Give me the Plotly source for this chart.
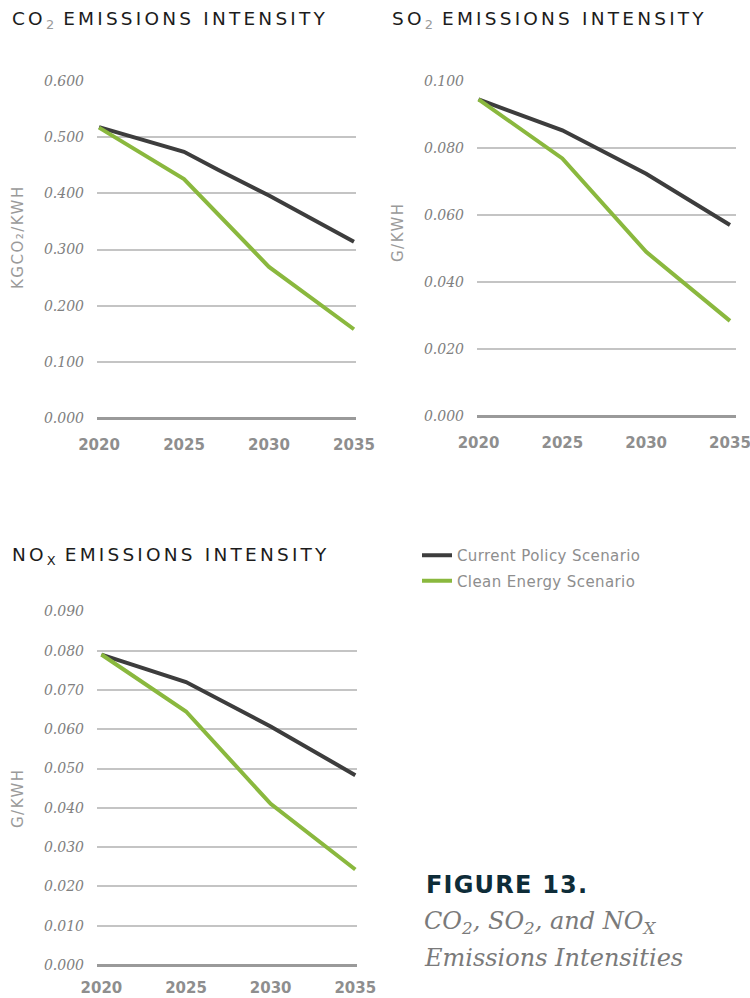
import plotly.graph_objects as go

# ---- data ----
SERIES = ["Current Policy Scenario", "Clean Energy Scenario"]
COLORS = ["#3d3d3d", "#8ab83e"]

co2_years_current = [2020, 2025, 2027, 2030, 2035]
co2_current = [0.518, 0.474, 0.442, 0.396, 0.314]
co2_years_clean = [2020, 2025, 2030, 2035]
co2_clean = [0.517, 0.4255, 0.269, 0.158]

so2_years = [2020, 2025, 2030, 2035]
so2_current = [0.0945, 0.0853, 0.0723, 0.0570]
so2_clean = [0.0945, 0.0769, 0.0490, 0.0284]

nox_years = [2020, 2025, 2030, 2035]
nox_current = [0.0790, 0.0720, 0.0607, 0.0483]
nox_clean = [0.0790, 0.0645, 0.0410, 0.0243]

x_ticks = [2020, 2025, 2030, 2035]
co2_ticks = [0.0, 0.1, 0.2, 0.3, 0.4, 0.5, 0.6]
so2_ticks = [0.0, 0.02, 0.04, 0.06, 0.08, 0.10]
nox_ticks = [0.0, 0.01, 0.02, 0.03, 0.04, 0.05, 0.06, 0.07, 0.08, 0.09]

W, H = 750, 998


def px_x(a, b):
    return [a / W, b / W]


def px_y(top, bottom):
    return [1 - bottom / H, 1 - top / H]


def spaced(text, px):
    return f"<span style='letter-spacing:{px}px'>{text}</span>"


fig = go.Figure()

panels = [
    ("x", "y", [co2_years_current, co2_years_clean], [co2_current, co2_clean], True),
    ("x2", "y2", [so2_years, so2_years], [so2_current, so2_clean], False),
    ("x3", "y3", [nox_years, nox_years], [nox_current, nox_clean], False),
]
for xa, ya, xs, ys, show in panels:
    for i in range(2):
        fig.add_trace(go.Scatter(
            x=xs[i], y=ys[i], mode="lines", name=spaced(SERIES[i], 0.4),
            line=dict(color=COLORS[i], width=4),
            xaxis=xa, yaxis=ya, showlegend=show, legendgroup=SERIES[i],
            hoverinfo="skip",
        ))

xfont = dict(family="DejaVu Sans", size=15, color="#8e8e8e", weight="bold")
yfont = dict(family="DejaVu Serif", size=14, color="#808080", style="italic")


def xaxis(domain, rng, anchor, standoff):
    return dict(domain=domain, range=rng, anchor=anchor, tickvals=x_ticks,
                showgrid=False, zeroline=False, showline=False, ticks="",
                tickfont=xfont, ticklabelstandoff=standoff, automargin=False,
                ticklabeloverflow="allow", fixedrange=True)


def yaxis(domain, rng, anchor, ticks):
    return dict(domain=domain, range=rng, anchor=anchor, tickvals=ticks,
                tickformat=".3f", showgrid=True, gridcolor="#c4c4c4", gridwidth=1.5,
                zeroline=True, zerolinecolor="#9a9a9a", zerolinewidth=3,
                showline=False, ticks="", tickfont=yfont, ticklabelstandoff=12,
                automargin=False, ticklabeloverflow="allow", fixedrange=True)


fig.update_layout(
    width=W, height=H,
    margin=dict(l=0, r=0, t=0, b=0, autoexpand=False),
    paper_bgcolor="white", plot_bgcolor="white",
    xaxis=xaxis(px_x(97, 356), [2019.88, 2035.12], "y", 16),
    yaxis=yaxis(px_y(81, 418), [0, 0.6], "x", co2_ticks),
    xaxis2=xaxis(px_x(477, 736), [2019.91, 2035.36], "y2", 16),
    yaxis2=yaxis(px_y(81, 416), [0, 0.1], "x2", so2_ticks),
    xaxis3=xaxis(px_x(97, 357), [2019.74, 2035.1], "y3", 12),
    yaxis3=yaxis(px_y(611.3, 965), [0, 0.09], "x3", nox_ticks),
    showlegend=True,
    legend=dict(x=417 / W, y=1 - 539 / H, xanchor="left", yanchor="top",
                font=dict(family="DejaVu Sans", size=15, color="#8e8e8e"),
                tracegroupgap=3, bgcolor="rgba(0,0,0,0)"),
)

title_font = dict(family="DejaVu Sans", size=18.5, color="#1c1c1c")
sub2 = "<sub><span style='color:#9a9a9a'>2</span></sub>"
rest = spaced(" EMISSIONS INTENSITY", 3.2)
titles = [
    (spaced("CO", 3.2) + sub2 + rest, 10, 20),
    (spaced("SO", 3.2) + sub2 + rest, 390, 20),
    (spaced("NO", 3.2) + "<sub>X</sub>" + rest, 10, 556),
]
for text, x, y in titles:
    fig.add_annotation(text=text, x=x / W, y=1 - y / H, xref="paper", yref="paper",
                       xanchor="left", yanchor="middle", showarrow=False, font=title_font)

unit_font = dict(family="DejaVu Sans", size=15, color="#9a9a9a")
units = [("KGCO₂/KWH", 18, 237), ("G/KWH", 398, 232), ("G/KWH", 18, 798)]
for text, x, y in units:
    fig.add_annotation(text=spaced(text, 1.5), x=x / W, y=1 - y / H,
                       xref="paper", yref="paper",
                       xanchor="center", yanchor="middle", textangle=-90,
                       showarrow=False, font=unit_font)

fig.add_annotation(text=spaced("FIGURE 13.", 1.2), x=424 / W, y=1 - 885 / H,
                   xref="paper", yref="paper",
                   xanchor="left", yanchor="middle", showarrow=False,
                   font=dict(family="DejaVu Sans", size=24, color="#0e2c38", weight="bold"))

caption_font = dict(family="DejaVu Serif", size=24, color="#7a7a7a", style="italic")
caption_lines = [("CO<sub>2</sub>, SO<sub>2</sub>, and NO<sub>X</sub>", 922),
                 ("Emissions Intensities", 958)]
for text, y in caption_lines:
    fig.add_annotation(text=text, x=422 / W, y=1 - y / H, xref="paper", yref="paper",
                       xanchor="left", yanchor="middle", align="left", showarrow=False,
                       font=caption_font)

fig.write_html("out.html")
